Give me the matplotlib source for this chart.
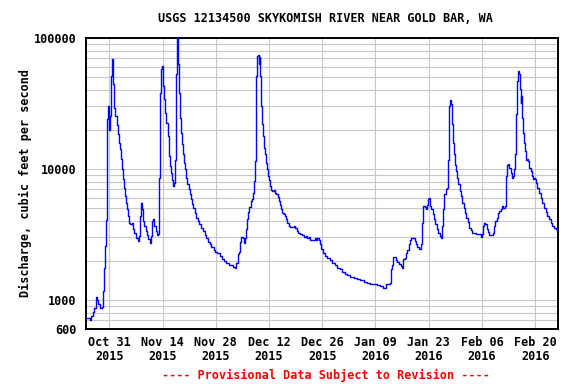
import datetime as dt
import numpy as np
import matplotlib
matplotlib.use("Agg")
import matplotlib.pyplot as plt
import matplotlib.dates as mdates
from matplotlib.ticker import LogLocator, FixedLocator, NullFormatter

# data: days since 2015-10-25 00:00 and discharge (cfs)
start = dt.datetime(2015, 10, 25)
days = [0.0, 0.8, 1.2, 1.7, 2.1, 2.4, 2.55, 2.8, 3.15, 3.6, 4.1, 4.4, 4.7, 4.9, 5.07, 5.33,
        5.52, 5.78, 5.96, 6.22, 6.38, 6.65, 6.91, 7.09, 7.36, 7.62, 7.96, 8.22, 8.49, 8.75,
        9.01, 9.27, 9.54, 9.8, 10.06, 10.32, 10.59, 10.85, 11.22, 11.56, 11.9, 12.27, 12.61,
        13.06, 13.48, 13.74, 14.0, 14.26, 14.63, 14.9, 15.24, 15.58, 15.95, 16.29, 16.63,
        17.08, 17.34, 17.6, 17.86, 18.21, 18.57, 18.91, 19.1, 19.36, 19.62, 19.78, 20.04,
        20.31, 20.67, 21.02, 21.36, 21.73, 22.07, 22.33, 22.59, 22.86, 23.12, 23.3, 23.46,
        23.72, 23.91, 24.09, 24.35, 24.62, 24.88, 25.14, 25.4, 25.74, 26.01, 26.27, 26.53,
        26.87, 27.14, 27.4, 27.77, 28.11, 28.45, 28.82, 29.24, 29.69, 30.13, 30.55, 31.08,
        31.52, 31.97, 32.39, 32.84, 33.44, 33.89, 34.34, 35.02, 35.65, 36.25, 36.78, 37.38,
        38.01, 38.54, 38.96, 39.41, 39.75, 40.02, 40.27, 40.64, 41.17, 41.43, 41.77, 42.03,
        42.3, 42.56, 42.82, 43.16, 43.53, 43.79, 44.06, 44.32, 44.48, 44.66, 44.84, 45.11,
        45.37, 45.53, 45.71, 45.9, 46.16, 46.42, 46.68, 46.95, 47.21, 47.47, 47.73, 48.0,
        48.26, 48.52, 48.86, 49.2, 49.57, 49.91, 50.26, 50.52, 50.78, 51.15, 51.49, 51.94,
        52.28, 52.54, 52.8, 53.15, 53.59, 54.12, 54.56, 54.9, 55.35, 55.69, 56.22, 56.74,
        57.19, 57.61, 58.06, 58.5, 58.85, 59.55, 60.08, 60.24, 60.68, 61.13, 61.39, 61.73,
        62.18, 62.6, 63.31, 63.91, 64.62, 65.33, 65.94, 66.54, 67.25, 67.86, 68.56, 69.43,
        70.33, 71.19, 72.06, 72.95, 73.82, 74.69, 75.58, 76.45, 77.31, 77.94, 78.47, 78.81,
        79.34, 79.78, 80.04, 80.39, 80.73, 81.1, 81.44, 81.78, 82.23, 82.67, 83.09, 83.36,
        83.72, 84.06, 84.41, 84.77, 85.11, 85.46, 85.98, 86.35, 86.69, 87.03, 87.4, 87.82,
        88.08, 88.35, 88.61, 88.98, 89.32, 89.58, 89.84, 90.11, 90.37, 90.71, 91.08, 91.42,
        91.76, 92.13, 92.47, 92.92, 93.34, 93.6, 93.86, 94.13, 94.49, 94.76, 95.02, 95.18,
        95.44, 95.63, 95.89, 96.07, 96.33, 96.6, 96.86, 97.12, 97.46, 97.8, 98.17, 98.51,
        98.86, 99.22, 99.56, 99.91, 100.28, 100.7, 101.07, 101.49, 101.93, 102.38, 102.8,
        103.24, 103.69, 103.95, 104.21, 104.56, 104.9, 105.27, 105.61, 105.95, 106.48,
        106.85, 107.19, 107.53, 107.9, 108.24, 108.58, 108.95, 109.29, 109.63, 110.0,
        110.26, 110.42, 110.68, 110.94, 111.21, 111.57, 111.91, 112.26, 112.52, 112.78,
        113.05, 113.31, 113.49, 113.75, 113.94, 114.2, 114.36, 114.62, 114.89, 115.15,
        115.41, 115.67, 115.94, 116.2, 116.46, 116.83, 117.09, 117.43, 117.69, 117.96,
        118.22, 118.56, 119.0, 119.45, 119.87, 120.32, 120.76, 121.19, 121.63, 122.08,
        122.5, 122.94, 123.39, 123.81]
flow = [730, 703, 750, 810, 870, 1010, 1060, 1000, 930, 870, 885, 1170, 1760, 2580, 4060, 5280,
        23900, 30200, 20000, 25300, 51200, 69300, 68000, 44300, 29300, 25400, 21500, 18400,
        15900, 14100, 12000, 9930, 8330, 7190, 6210, 5520, 4920, 4370, 3890, 3780, 3890, 3500,
        3260, 2990, 2820, 3080, 4370, 5520, 4920, 4000, 3660, 3360, 3110, 2930, 2730, 3080,
        4000, 4120, 3660, 3360, 3110, 3170, 8570, 38200, 57500, 61000, 43000, 34000, 26900,
        22300, 17800, 12600, 10500, 9360, 8230, 7410, 7850, 11800, 52700, 94600, 99500, 62800,
        38200, 24600, 18900, 15400, 12900, 11200, 9930, 8570, 7630, 6990, 6400, 5860, 5370,
        5000, 4630, 4240, 4000, 3780, 3560, 3360, 3130, 2950, 2780, 2660, 2550, 2400, 2320,
        2270, 2160, 2060, 1980, 1900, 1840, 1840, 1790, 1760, 1920, 2230, 2320, 2770, 3010,
        2990, 2730, 2990, 3500, 4170, 4690, 5150, 5690, 5920, 6580, 8090, 11500, 23900, 51200,
        72800, 73900, 62800, 71100, 51200, 30200, 21900, 17800, 14500, 12900, 11200, 9930,
        8830, 8230, 7410, 6920, 6800, 6870, 6580, 6400, 6140, 5690, 5280, 4920, 4630, 4560,
        4370, 4120, 3890, 3660, 3620, 3600, 3700, 3560, 3360, 3220, 3170, 3110, 3020, 3080,
        2990, 3040, 2870, 2870, 2990, 2870, 2990, 2890, 2660, 2430, 2270, 2160, 2100, 2020,
        1920, 1840, 1760, 1710, 1640, 1590, 1540, 1500, 1470, 1450, 1410, 1380, 1350, 1330,
        1320, 1300, 1280, 1240, 1240, 1320, 1320, 1350, 1710, 1840, 2140, 2140, 2030, 1940,
        1870, 1810, 1760, 2060, 2100, 2290, 2400, 2660, 2870, 2990, 2950, 2820, 2660, 2550,
        2470, 2430, 2660, 3890, 5210, 5150, 4920, 5280, 5920, 6010, 5210, 4920, 4510, 4120,
        3780, 3500, 3260, 3080, 2990, 3660, 4920, 6400, 6990, 7190, 7760, 11800, 30200, 33600,
        31200, 21900, 15900, 12900, 10800, 9590, 8570, 7630, 6800, 6210, 5520, 5060, 4630,
        4240, 3940, 3560, 3400, 3220, 3260, 3200, 3170, 3170, 3020, 3170, 3660, 3890, 3780,
        3500, 3290, 3130, 3110, 3260, 3660, 4000, 4240, 4630, 4800, 4950, 5210, 5060, 5210,
        6280, 8830, 10800, 11000, 10200, 9360, 8570, 8830, 9930, 12900, 26100, 46900, 55800,
        52700, 40500, 32000, 36000, 24600, 18900, 15900, 13700, 11800, 12000, 11500, 10200,
        9590, 8830, 8340, 8570, 8400, 7850, 7190, 6580, 6010, 5520, 5060, 4690, 4370, 4120,
        3890, 3700, 3560, 3460, 3360]

tick_dates = [start + dt.timedelta(days=6 + 14 * k) for k in range(9)]
y_ticks = [600, 1000, 10000, 100000]
y_labels = ["600", "1000", "10000", "100000"]

times = [start + dt.timedelta(days=d) for d in days]
font = {"family": "DejaVu Sans Mono", "weight": "bold", "size": 8.5}

fig = plt.figure(figsize=(5.76, 3.84), dpi=100)
ax = fig.add_axes([86 / 576, 1 - 329 / 384, 472 / 576, 291 / 384])

ax.plot(times, flow, color="#0000ff", lw=1.0, drawstyle="steps-post", zorder=3)

ax.set_yscale("log")
ax.set_ylim(600, 100000)
ax.set_xlim(start - dt.timedelta(hours=3), start + dt.timedelta(days=124))

ax.yaxis.set_major_locator(FixedLocator(y_ticks))
ax.set_yticklabels(y_labels, fontdict=font)
ax.yaxis.set_minor_locator(LogLocator(base=10, subs=np.arange(1, 10)))
ax.yaxis.set_minor_formatter(NullFormatter())

ax.xaxis.set_major_locator(FixedLocator(mdates.date2num(tick_dates)))
ax.set_xticklabels([d.strftime("%b %d\n%Y") for d in tick_dates], fontdict=font,
                   linespacing=1.15)

ax.grid(True, which="both", color="#c8c8c8", lw=0.8, zorder=0)
ax.tick_params(which="both", length=0)
ax.tick_params(axis="x", pad=5)
ax.tick_params(axis="y", pad=7)
for s in ax.spines.values():
    s.set_linewidth(1.4)
    s.set_color("black")

fig.text(0.565, 1 - 18 / 384, "USGS 12134500 SKYKOMISH RIVER NEAR GOLD BAR, WA",
         ha="center", va="center", **font)
fig.text(25 / 576, 1 - 183 / 384, "Discharge, cubic feet per second",
         rotation=90, ha="center", va="center", **font)
fig.text(0.566, 1 - 375 / 384, "---- Provisional Data Subject to Revision ----",
         ha="center", va="center", color="#ff0000", **font)

fig.savefig("out.png", dpi=100)
